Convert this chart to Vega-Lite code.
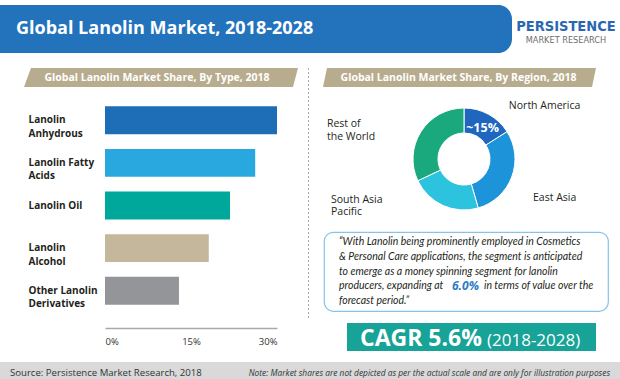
{
  "$schema": "https://vega.github.io/schema/vega-lite/v6.json",
  "padding": 0,
  "background": "white",
  "spacing": 0,
  "resolve": {"scale": {"color": "independent", "fill": "independent"}},
  "config": {"view": {"stroke": null}, "concat": {"spacing": 0}, "font": "Open Sans", "text": {"font": "Open Sans"}},
  "vconcat": [
    {"width": 620, "height": 5, "data": {"values": []}, "mark": "point", "encoding": {}},
    {
      "hconcat": [
        {
          "width": 512, "height": 48,
          "layer": [
            {"data": {"values": [{"k": "banner"}]}, "mark": {"type": "rect", "color": "#2273bc", "cornerRadiusTopRight": 14, "cornerRadiusBottomRight": 14}, "encoding": {}},
            {"data": {"values": [{"t": "Global Lanolin Market, 2018-2028"}]}, "mark": {"type": "text", "align": "left", "baseline": "middle", "fontSize": 18, "fontWeight": "bold", "color": "#ffffff"}, "encoding": {"x": {"value": 16}, "y": {"value": 24}, "text": {"field": "t"}}}
          ]
        },
        {"width": 6, "height": 48, "data": {"values": []}, "mark": "point", "encoding": {}},
        {
          "width": 96, "height": 48,
          "layer": [
            {"data": {"values": [{"t": "PERSISTENCE"}]}, "mark": {"type": "text", "align": "center", "baseline": "middle", "font": "DejaVu Sans Condensed", "fontSize": 14.5, "fontWeight": "bold", "color": "#2a67b1"}, "encoding": {"y": {"value": 22}, "text": {"field": "t"}}},
            {"data": {"values": [{"t": "MARKET RESEARCH"}]}, "mark": {"type": "text", "align": "center", "baseline": "middle", "font": "DejaVu Sans", "fontSize": 8.2, "color": "#6d6e70"}, "encoding": {"y": {"value": 35.5}, "text": {"field": "t"}}}
          ]
        }
      ],
      "bounds": "flush", "spacing": 0
    },
    {"width": 620, "height": 14, "data": {"values": []}, "mark": "point", "encoding": {}},
    {
      "resolve": {"scale": {"color": "independent", "fill": "independent"}},
      "hconcat": [
        {
          "vconcat": [
            {
              "hconcat": [
                {"width": 24, "height": 19, "data": {"values": []}, "mark": "point", "encoding": {}},
                {
                  "width": 274, "height": 19,
                  "layer": [
                    {"data": {"values": [{"k": "band"}]}, "mark": {"type": "point", "shape": "M-0.949,-0.0693L1,-0.0693L0.9635,0.0693L-1,0.0693Z", "size": 75076, "filled": true, "color": "#b8ac8e", "opacity": 1, "strokeWidth": 0}, "encoding": {}},
                    {"data": {"values": [{"t": "Global Lanolin Market Share, By Type, 2018"}]}, "mark": {"type": "text", "align": "center", "baseline": "middle", "fontSize": 10.5, "fontWeight": "bold", "color": "#ffffff", "dx": -4}, "encoding": {"text": {"field": "t"}}}
                  ]
                },
                {"width": 10, "height": 19, "data": {"values": []}, "mark": "point", "encoding": {}}
              ],
              "bounds": "flush", "spacing": 0
            },
            {"width": 308, "height": 12, "data": {"values": []}, "mark": "point", "encoding": {}},
            {
              "hconcat": [
                {"width": 105, "height": 213, "data": {"values": []}, "mark": "point", "encoding": {}},
                {
                  "width": 172, "height": 213,
                  "data": {"values": [
                    {"type": "Lanolin Anhydrous", "share": 30},
                    {"type": "Lanolin Fatty Acids", "share": 26.2},
                    {"type": "Lanolin Oil", "share": 21.8},
                    {"type": "Lanolin Alcohol", "share": 18.1},
                    {"type": "Other Lanolin Derivatives", "share": 12.9}
                  ]},
                  "mark": {"type": "bar"},
                  "encoding": {
                    "y": {
                      "field": "type", "type": "nominal", "sort": null,
                      "scale": {"paddingInner": 0.345, "paddingOuter": 0.1725},
                      "axis": {
                        "title": null, "ticks": false, "domain": false, "labelAlign": "left", "labelPadding": 77,
                        "labelFont": "Open Sans", "labelFontSize": 10, "labelFontWeight": "bold", "labelColor": "#231f20",
                        "labelLineHeight": 13.5, "labelBaseline": "middle", "labelLimit": 0,
                        "labelExpr": "datum.label == 'Lanolin Oil' ? datum.label : [substring(datum.label, 0, lastindexof(datum.label, ' ')), substring(datum.label, lastindexof(datum.label, ' ') + 1)]"
                      }
                    },
                    "x": {
                      "field": "share", "type": "quantitative",
                      "scale": {"domain": [0, 30], "nice": false},
                      "axis": {
                        "title": null, "values": [0, 15, 30], "labelExpr": "datum.value + '%'", "grid": false, "ticks": false,
                        "domainColor": "#a7a9ac", "domainWidth": 1.5, "offset": 16, "labelPadding": 8, "labelFlush": true,
                        "labelFont": "Open Sans", "labelFontSize": 9.5, "labelColor": "#333333", "labelBaseline": "top"
                      }
                    },
                    "color": {
                      "field": "type", "type": "nominal",
                      "scale": {
                        "domain": ["Lanolin Anhydrous", "Lanolin Fatty Acids", "Lanolin Oil", "Lanolin Alcohol", "Other Lanolin Derivatives"],
                        "range": ["#1e6db7", "#29a8e0", "#00a89c", "#c4b79c", "#939598"]
                      },
                      "legend": null
                    }
                  }
                }
              ],
              "bounds": "flush", "spacing": 0
            }
          ],
          "spacing": 0
        },
        {"width": 1, "height": 250, "data": {"values": [{"k": "sep"}]}, "mark": {"type": "rule", "color": "#a8a8a8", "strokeDash": [2, 2], "strokeWidth": 1}, "encoding": {"x": {"value": 0.5}}},
        {
          "vconcat": [
            {
              "hconcat": [
                {"width": 14, "height": 19, "data": {"values": []}, "mark": "point", "encoding": {}},
                {
                  "width": 273, "height": 19,
                  "layer": [
                    {"data": {"values": [{"k": "band"}]}, "mark": {"type": "point", "shape": "M-0.9707,-0.0696L1,-0.0696L0.9707,0.0696L-1,0.0696Z", "size": 74529, "filled": true, "color": "#b8ac8e", "opacity": 1, "strokeWidth": 0}, "encoding": {}},
                    {"data": {"values": [{"t": "Global Lanolin Market Share, By Region, 2018"}]}, "mark": {"type": "text", "align": "center", "baseline": "middle", "fontSize": 10.5, "fontWeight": "bold", "color": "#ffffff", "dx": -1}, "encoding": {"text": {"field": "t"}}}
                  ]
                }
              ],
              "bounds": "flush", "spacing": 0
            },
            {"width": 10, "height": 8, "data": {"values": []}, "mark": "point", "encoding": {}},
            {
              "hconcat": [
                {"width": 25, "height": 126, "data": {"values": []}, "mark": "point", "encoding": {}},
                {
                  "width": 260, "height": 126,
                  "data": {"values": [
                    {"region": "North America", "share": 16, "rank": 1, "pct": "~15%", "label": "North America"},
                    {"region": "East Asia", "share": 29.5, "rank": 2, "pct": "", "label": "East Asia"},
                    {"region": "South Asia Pacific", "share": 22.5, "rank": 3, "pct": "", "label": "South Asia\nPacific"},
                    {"region": "Rest of the World", "share": 32, "rank": 4, "pct": "", "label": "Rest of\nthe World"}
                  ]},
                  "encoding": {
                    "theta": {"field": "share", "type": "quantitative", "stack": true},
                    "order": {"field": "rank", "type": "quantitative"}
                  },
                  "layer": [
                    {
                      "mark": {"type": "arc", "outerRadius": 51, "innerRadius": 26, "stroke": "#ffffff", "strokeWidth": 1},
                      "encoding": {
                        "fill": {
                          "field": "region", "type": "nominal",
                          "scale": {"domain": ["North America", "East Asia", "South Asia Pacific", "Rest of the World"], "range": ["#1f66bf", "#1d93da", "#2cc3df", "#19a97c"]},
                          "legend": null
                        }
                      }
                    },
                    {
                      "mark": {"type": "text", "radius": 38.5, "dy": 2.5, "fontSize": 12.5, "fontWeight": "bold", "color": "#ffffff"},
                      "encoding": {"text": {"field": "pct"}}
                    },
                    {
                      "mark": {
                        "type": "text", "radius": 62, "align": "left", "baseline": "middle", "fontSize": 10.5, "color": "#231f20",
                        "lineBreak": "\n", "lineHeight": 12.5,
                        "dx": {"expr": "datum.region === 'North America' ? 15 : datum.region === 'East Asia' ? 11 : datum.region === 'South Asia Pacific' ? -107.5 : -84.7"},
                        "dy": {"expr": "datum.region === 'North America' ? 1 : datum.region === 'East Asia' ? 17 : datum.region === 'South Asia Pacific' ? -16 : -1.3"}
                      },
                      "encoding": {"text": {"field": "label"}}
                    }
                  ]
                }
              ],
              "bounds": "flush", "spacing": 0
            },
            {"width": 10, "height": 9, "data": {"values": []}, "mark": "point", "encoding": {}},
            {
              "hconcat": [
                {"width": 15, "height": 79, "data": {"values": []}, "mark": "point", "encoding": {}},
                {
                  "width": 284, "height": 79,
                  "view": {"fill": "#ffffff", "stroke": "#86c3ea", "strokeWidth": 1.2, "cornerRadius": 9},
                  "layer": [
                    {
                      "data": {"values": [
                        {"line": 1, "text": "“With Lanolin being prominently employed in Cosmetics"},
                        {"line": 2, "text": "& Personal Care applications, the segment is anticipated"},
                        {"line": 3, "text": "to emerge as a money spinning segment for lanolin"},
                        {"line": 4, "text": "producers, expanding at"},
                        {"line": 5, "text": "forecast period.”"}
                      ]},
                      "mark": {"type": "text", "align": "left", "baseline": "middle", "font": "Lato", "fontStyle": "italic", "fontSize": 10.5, "color": "#231f20"},
                      "encoding": {
                        "x": {"value": 15},
                        "y": {"field": "line", "type": "ordinal", "scale": {"type": "point", "padding": 0.72}, "axis": null},
                        "text": {"field": "text"}
                      }
                    },
                    {
                      "data": {"values": [{"line": 4, "text": "6.0%"}]},
                      "mark": {"type": "text", "align": "left", "baseline": "middle", "fontSize": 12, "fontWeight": "bold", "fontStyle": "italic", "color": "#2b7bc4"},
                      "encoding": {"x": {"value": 128}, "y": {"field": "line", "type": "ordinal"}, "text": {"field": "text"}}
                    },
                    {
                      "data": {"values": [{"line": 4, "text": "in terms of value over the"}]},
                      "mark": {"type": "text", "align": "left", "baseline": "middle", "font": "Lato", "fontStyle": "italic", "fontSize": 10.5, "color": "#231f20"},
                      "encoding": {"x": {"value": 160}, "y": {"field": "line", "type": "ordinal"}, "text": {"field": "text"}}
                    }
                  ]
                }
              ],
              "bounds": "flush", "spacing": 0
            },
            {"width": 10, "height": 11, "data": {"values": []}, "mark": "point", "encoding": {}},
            {
              "hconcat": [
                {"width": 38, "height": 28, "data": {"values": []}, "mark": "point", "encoding": {}},
                {
                  "width": 249, "height": 28,
                  "view": {"fill": "#17a398"},
                  "layer": [
                    {"data": {"values": [{"t": "CAGR 5.6%"}]}, "mark": {"type": "text", "align": "left", "baseline": "alphabetic", "fontSize": 23, "fontWeight": "bold", "color": "#ffffff"}, "encoding": {"x": {"value": 13}, "y": {"value": 23.3}, "text": {"field": "t"}}},
                    {"data": {"values": [{"t": "(2018-2028)"}]}, "mark": {"type": "text", "align": "left", "baseline": "alphabetic", "fontSize": 17, "color": "#ffffff"}, "encoding": {"x": {"value": 140}, "y": {"value": 23.3}, "text": {"field": "t"}}}
                  ]
                }
              ],
              "bounds": "flush", "spacing": 0
            },
            {"width": 10, "height": 10, "data": {"values": []}, "mark": "point", "encoding": {}}
          ],
          "spacing": 0
        }
      ],
      "spacing": 0
    },
    {
      "width": 620, "height": 22,
      "view": {"fill": "#d9d9d9"},
      "layer": [
        {"data": {"values": [{"t": "Source: Persistence Market Research, 2018"}]}, "mark": {"type": "text", "align": "left", "baseline": "middle", "fontSize": 9.6, "color": "#333333"}, "encoding": {"x": {"value": 10}, "y": {"value": 11}, "text": {"field": "t"}}},
        {"data": {"values": [{"t": "Note: Market shares are not depicted as per the actual scale and are only for illustration purposes"}]}, "mark": {"type": "text", "align": "right", "baseline": "middle", "fontSize": 8.4, "fontStyle": "italic", "color": "#333333"}, "encoding": {"x": {"value": 610}, "y": {"value": 11}, "text": {"field": "t"}}}
      ]
    }
  ]
}
